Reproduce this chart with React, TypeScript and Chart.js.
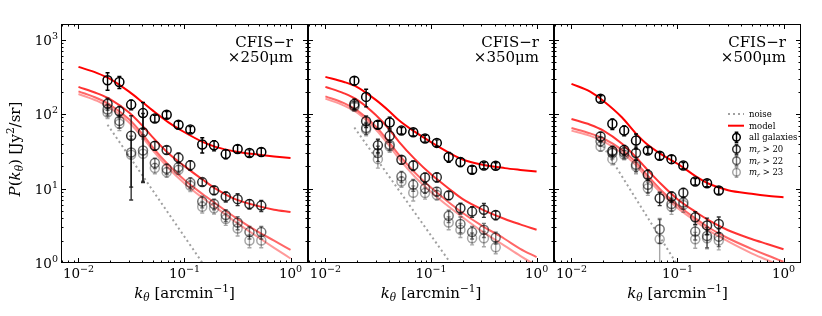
import React, { useEffect, useRef } from "react";
import { Chart, registerables } from "chart.js";
Chart.register(...registerables);

const FONT = '"DejaVu Serif", serif';

// ---- k bins (arcmin^-1) ----
const K250 = [0.0188, 0.0243, 0.0314, 0.0406, 0.0525, 0.0679, 0.0878, 0.1135, 0.147, 0.19, 0.245, 0.317, 0.41, 0.53];
const K350 = [0.0188, 0.0243, 0.0314, 0.0406, 0.0525, 0.0679, 0.0878, 0.1135, 0.147, 0.19, 0.245, 0.317, 0.41];
const K500 = [0.0188, 0.0243, 0.0314, 0.0406, 0.0525, 0.0679, 0.0878, 0.1135, 0.147, 0.19, 0.245];

// ---- 250 micron ----
const P250_ALL = [284, 270, 134, 103, 87, 98, 72, 62, 39, 38, 29, 34, 30, 31];
const E250_ALL = [75, 50, 20, 40, 9, 10, 8, 6, 9, 6, 4, 4, 3, 4];
const P250_M20 = [138, 109, 51, 57, 37.6, 33, 26, 20.6, 12.2, 9.5, 7.8, 7.2, 6.2, 5.9];
const E250_M20 = [25, 18, 44, 45, 5, 4, 4, 3, 1.3, 1.2, 1.2, 1.3, 0.9, 1.0];
const P250_M22 = [115, 81, 30.5, 32.5, 22, 18.4, 19.4, 12, 6.7, 6.2, 4.4, 3.5, 2.6, 2.6];
const E250_M22 = [20, 16, 20, 20, 3.5, 3, 3, 2, 1.2, 1.0, 0.8, 0.7, 0.5, 0.5];
const P250_M23 = [105, 74, 28.4, 29.3, 18.8, 16.6, 17.9, 10.9, 5.7, 5.45, 3.9, 2.9, 2.0, 2.0];
const E250_M23 = [18, 14, 18, 17, 3, 2.5, 2.5, 1.8, 1.0, 0.9, 0.7, 0.6, 0.4, 0.4];

// ---- 350 micron ----
const P350_ALL = [281, 170, 72, 77, 60, 57, 47, 41, 26.5, 22.7, 17.9, 20.4, 20.2];
const E350_ALL = [35, 45, 8, 14, 6, 6, 5, 4, 4, 3, 2, 2, 2];
const P350_M20 = [137, 80, 38, 51, 24.3, 20.4, 14.1, 14.2, 8.1, 5.45, 4.9, 5.2, 4.4];
const E350_M20 = [22, 14, 8, 9, 3, 3, 2, 2, 1, 0.9, 0.8, 1.1, 0.6];
const P350_M22 = [130, 65, 30, 38.7, 14.5, 11.2, 10.1, 9.1, 4.3, 3.35, 2.6, 2.8, 2.2];
const E350_M22 = [16, 12, 7, 6, 2.5, 2, 1.5, 1.2, 0.8, 0.8, 0.5, 0.6, 0.4];
const P350_M23 = [125, 62, 24.8, 36.7, 12.4, 8.8, 8.7, 8.2, 3.5, 2.8, 2.15, 2.15, 1.63];
const E350_M23 = [15, 11, 6, 6, 2, 2, 1.5, 1.2, 0.7, 0.6, 0.4, 0.5, 0.3];

// ---- 500 micron ----
const P500_ALL = [161, 74, 60, 44, 32.5, 27.5, 24.8, 20.4, 12.4, 11.8, 9.4];
const E500_ALL = [15, 12, 9, 10, 3, 3, 3, 2, 1.2, 1.2, 1];
const P500_M20 = [50, 32, 33, 30, 15.3, 7.4, 7.8, 8.8, 4.1, 3.2, 3.35];
const E500_M20 = [7, 5, 5, 6, 2.5, 1.5, 1.2, 1.2, 0.8, 0.8, 0.8];
const P500_M22 = [43, 30, 30.5, 20.8, 11.2, 2.84, 6.2, 6.5, 2.64, 2.3, 2.26];
const E500_M22 = [6, 5, 5, 4, 2.5, 1.0, 1.2, 1.2, 0.6, 0.7, 0.6];
const P500_M23 = [36.7, 24.8, 28.4, 19.8, 10.1, 2.08, 5.7, 6.0, 2.08, 2.15, 2.0];
const E500_M23 = [5, 4, 4, 4, 2, 1.9, 1.2, 1.2, 0.5, 0.6, 0.5];

// ---- model curves, sampled at MODEL_K ----
const MODEL_K = [0.01, 0.015, 0.02, 0.03, 0.04, 0.05, 0.07, 0.1, 0.15, 0.2, 0.3, 0.5, 0.7, 1.0];
const M250_ALL = [430, 355, 295, 200, 145, 112, 78, 57, 42, 36, 31.5, 28.5, 27, 25.7];
const M250_M20 = [232, 190, 158, 105, 70, 49, 30, 20, 13, 9.8, 7.2, 5.8, 5.2, 4.85];
const M250_M22 = [202, 163, 132, 85, 54, 36, 21, 13, 8.3, 6.2, 4.1, 2.6, 2.0, 1.5];
const M250_M23 = [186, 150, 120, 77, 49, 33, 19, 11.7, 7.4, 5.5, 3.6, 2.2, 1.6, 1.15];

const M350_ALL = [316, 270, 230, 155, 110, 82, 58, 42, 30, 24.5, 21, 18.8, 17.8, 16.9];
const M350_M20 = [232, 190, 155, 97, 63, 42, 25, 15.5, 9.8, 7.2, 5.3, 3.9, 3.3, 2.8];
const M350_M22 = [173, 140, 112, 68, 42, 28, 16.5, 10.3, 6.4, 4.7, 3.2, 2.1, 1.55, 1.2];
const M350_M23 = [161, 130, 104, 62, 38, 25, 14.5, 9.0, 5.6, 4.1, 2.7, 1.7, 1.25, 0.92];

const M500_ALL = [254, 200, 150, 90, 56, 41, 29, 21.5, 14.5, 11.5, 9.5, 8.5, 8.0, 7.66];
const M500_M20 = [86, 72, 60, 40, 27, 19, 11.5, 7.2, 4.8, 3.7, 2.75, 2.1, 1.8, 1.53];
const M500_M22 = [65, 55, 47, 33, 23, 16, 9.5, 6.0, 3.9, 2.95, 2.15, 1.55, 1.27, 1.04];
const M500_M23 = [60, 51, 43, 30, 21, 14.5, 8.7, 5.5, 3.6, 2.7, 1.95, 1.35, 1.1, 0.88];

// ---- noise lines ----
const NOISE_K250 = [0.0188, 0.148];
const NOISE_P250 = [72, 1];
const NOISE_K350 = [0.0188, 0.153];
const NOISE_P350 = [66, 1];
const NOISE_K500 = [0.0188, 0.097];
const NOISE_P500 = [42, 1];

// ---- ticks ----
const X_TICKS = [0.01, 0.1, 1];
const X_TICK_EXP = ["−2", "−1", "0"];
const Y_TICKS = [1, 10, 100, 1000];
const Y_TICK_EXP = ["0", "1", "2", "3"];
const X_MIN = 0.00684;
const X_MAX = 1.462;
const Y_MIN = 1;
const Y_MAX = 1620;

const SERIES_COLORS = ["rgba(0,0,0,1)", "rgba(0,0,0,0.8)", "rgba(0,0,0,0.55)", "rgba(0,0,0,0.35)"];
const MODEL_COLORS = ["rgba(255,0,0,1)", "rgba(255,0,0,0.8)", "rgba(255,0,0,0.6)", "rgba(255,0,0,0.4)"];
const NOISE_COLOR = "#a0a0a0";

const PANELS = [
  {
    label: "×250μm", left: 61, right: 308, yAxis: true, legend: false,
    k: K250, series: [P250_ALL, P250_M20, P250_M22, P250_M23], errs: [E250_ALL, E250_M20, E250_M22, E250_M23],
    models: [M250_ALL, M250_M20, M250_M22, M250_M23], noiseK: NOISE_K250, noiseP: NOISE_P250,
  },
  {
    label: "×350μm", left: 308, right: 554, yAxis: false, legend: false,
    k: K350, series: [P350_ALL, P350_M20, P350_M22, P350_M23], errs: [E350_ALL, E350_M20, E350_M22, E350_M23],
    models: [M350_ALL, M350_M20, M350_M22, M350_M23], noiseK: NOISE_K350, noiseP: NOISE_P350,
  },
  {
    label: "×500μm", left: 554, right: 801, yAxis: false, legend: true,
    k: K500, series: [P500_ALL, P500_M20, P500_M22, P500_M23], errs: [E500_ALL, E500_M20, E500_M22, E500_M23],
    models: [M500_ALL, M500_M20, M500_M22, M500_M23], noiseK: NOISE_K500, noiseP: NOISE_P500,
  },
];

const W = 822;
const H = 316;
const TOP = 24;
const BOTTOM = 263;

type Seg = { t: string; it?: boolean; s: number; dy?: number };
function segFont(s: Seg) {
  return `${s.it ? "italic " : ""}${s.s}px ${FONT}`;
}
function measureSegs(ctx: CanvasRenderingContext2D, segs: Seg[]) {
  let w = 0;
  for (const s of segs) {
    ctx.font = segFont(s);
    w += ctx.measureText(s.t).width;
  }
  return w;
}
function drawSegs(ctx: CanvasRenderingContext2D, segs: Seg[], x: number, y: number) {
  let cx = x;
  ctx.textAlign = "left";
  ctx.textBaseline = "alphabetic";
  for (const s of segs) {
    ctx.font = segFont(s);
    ctx.fillText(s.t, cx, y + (s.dy || 0));
    cx += ctx.measureText(s.t).width;
  }
}
function powSegs(exp: string): Seg[] {
  return [
    { t: "10", s: 13.5 },
    { t: exp, s: 9.5, dy: -6 },
  ];
}

function drawErrBar(ctx: CanvasRenderingContext2D, x: number, yTop: number, yBot: number, color: string, cap: number) {
  ctx.strokeStyle = color;
  ctx.lineWidth = 1.4;
  ctx.beginPath();
  ctx.moveTo(x, yTop);
  ctx.lineTo(x, yBot);
  ctx.moveTo(x - cap, yTop);
  ctx.lineTo(x + cap, yTop);
  ctx.moveTo(x - cap, yBot);
  ctx.lineTo(x + cap, yBot);
  ctx.stroke();
}

function makeDecor(p: any) {
  return {
    id: "decor",
    beforeDatasetDraw(chart: any, args: any) {
      const ds = chart.data.datasets[args.index];
      if (!ds.yErr) return;
      const { ctx, chartArea } = chart;
      const xs = chart.scales.x;
      const ys = chart.scales.y;
      ctx.save();
      ctx.beginPath();
      ctx.rect(chartArea.left, chartArea.top, chartArea.right - chartArea.left, chartArea.bottom - chartArea.top);
      ctx.clip();
      ds.data.forEach((pt: any, i: number) => {
        const e = ds.yErr[i];
        const px = xs.getPixelForValue(pt.x);
        const yT = ys.getPixelForValue(pt.y + e);
        const lo = pt.y - e;
        const yB = lo > 0 ? ys.getPixelForValue(lo) : chartArea.bottom + 20;
        drawErrBar(ctx, px, yT, yB, ds.errColor, 2);
      });
      ctx.restore();
    },
    afterDraw(chart: any) {
      const { ctx, chartArea } = chart;
      const xs = chart.scales.x;
      const ys = chart.scales.y;
      const L = chartArea.left, R = chartArea.right, T = chartArea.top, B = chartArea.bottom;
      ctx.save();
      ctx.strokeStyle = "#000";
      ctx.lineWidth = 1;
      ctx.strokeRect(L + 0.5, T + 0.5, R - L - 1, B - T - 1);
      // ticks (inward, all sides)
      ctx.beginPath();
      for (let d = -3; d <= 0; d++) {
        for (let m = 1; m <= 9; m++) {
          const v = m * Math.pow(10, d);
          if (v <= X_MIN || v >= X_MAX) continue;
          const px = Math.round(xs.getPixelForValue(v)) + 0.5;
          const len = m === 1 ? 5 : 2.5;
          ctx.moveTo(px, B);
          ctx.lineTo(px, B - len);
          ctx.moveTo(px, T);
          ctx.lineTo(px, T + len);
        }
      }
      for (let d = 0; d <= 3; d++) {
        for (let m = 1; m <= 9; m++) {
          const v = m * Math.pow(10, d);
          if (v <= Y_MIN || v >= Y_MAX) continue;
          const py = Math.round(ys.getPixelForValue(v)) + 0.5;
          const len = m === 1 ? 5 : 2.5;
          ctx.moveTo(L, py);
          ctx.lineTo(L + len, py);
          ctx.moveTo(R, py);
          ctx.lineTo(R - len, py);
        }
      }
      ctx.stroke();

      ctx.fillStyle = "#000";
      // tick labels
      X_TICKS.forEach((v, i) => {
        const segs = powSegs(X_TICK_EXP[i]);
        const w = measureSegs(ctx, segs);
        drawSegs(ctx, segs, xs.getPixelForValue(v) - w / 2, 278);
      });
      if (p.yAxis) {
        Y_TICKS.forEach((v, i) => {
          const segs = powSegs(Y_TICK_EXP[i]);
          const w = measureSegs(ctx, segs);
          drawSegs(ctx, segs, L - 3 - w, ys.getPixelForValue(v) + 5);
        });
      }

      // panel label
      ctx.font = `15px ${FONT}`;
      ctx.textAlign = "right";
      ctx.textBaseline = "alphabetic";
      ctx.fillText("CFIS−r", R - 15, 47);
      ctx.fillText(p.label, R - 15, 62);

      // x axis title
      const xl: Seg[] = [
        { t: "k", it: true, s: 15 },
        { t: "θ", it: true, s: 10.5, dy: 3 },
        { t: " [arcmin", s: 15 },
        { t: "−1", s: 10.5, dy: -6 },
        { t: "]", s: 15 },
      ];
      const xw = measureSegs(ctx, xl);
      drawSegs(ctx, xl, (L + R) / 2 - xw / 2, 298);

      if (p.yAxis) {
        const yl: Seg[] = [
          { t: "P", it: true, s: 15 },
          { t: "(", s: 15 },
          { t: "k", it: true, s: 15 },
          { t: "θ", it: true, s: 10.5, dy: 3 },
          { t: ") [Jy", s: 15 },
          { t: "2", s: 10.5, dy: -6 },
          { t: "/sr]", s: 15 },
        ];
        const yw = measureSegs(ctx, yl);
        ctx.save();
        ctx.translate(20, 149);
        ctx.rotate(-Math.PI / 2);
        drawSegs(ctx, yl, -yw / 2, 0);
        ctx.restore();
      }

      if (p.legend) {
        const x0 = R - 73, x1 = R - 57, tx = R - 52, mx = R - 64.5;
        const rows = [114, 125.7, 137.3, 149.3, 160.7, 172.3];
        ctx.save();
        ctx.strokeStyle = NOISE_COLOR;
        ctx.lineWidth = 2;
        ctx.setLineDash([2, 3]);
        ctx.beginPath();
        ctx.moveTo(x0, rows[0]);
        ctx.lineTo(x1, rows[0]);
        ctx.stroke();
        ctx.restore();
        ctx.strokeStyle = MODEL_COLORS[0];
        ctx.lineWidth = 2;
        ctx.beginPath();
        ctx.moveTo(x0, rows[1]);
        ctx.lineTo(x1, rows[1]);
        ctx.stroke();
        for (let i = 0; i < 4; i++) {
          const y = rows[2 + i];
          drawErrBar(ctx, mx, y - 5, y + 5, SERIES_COLORS[i], 1.8);
          ctx.strokeStyle = SERIES_COLORS[i];
          ctx.lineWidth = 1.5;
          ctx.beginPath();
          ctx.arc(mx, y, 3.8, 0, Math.PI * 2);
          ctx.stroke();
        }
        ctx.fillStyle = "#000";
        const lab = (segs: Seg[], y: number) => drawSegs(ctx, segs, tx, y + 3);
        lab([{ t: "noise", s: 8.5 }], rows[0]);
        lab([{ t: "model", s: 8.5 }], rows[1]);
        lab([{ t: "all galaxies", s: 8.5 }], rows[2]);
        const mags = ["20", "22", "23"];
        mags.forEach((m, i) => {
          lab([{ t: "m", it: true, s: 8.5 }, { t: "r", it: true, s: 6, dy: 1.5 }, { t: " > " + m, s: 8.5 }], rows[3 + i]);
        });
      }
      ctx.restore();
    },
  };
}

function buildConfig(p: any): any {
  const datasets: any[] = [];
  p.series.forEach((s: number[], i: number) => {
    datasets.push({
      data: p.k.map((k: number, j: number) => ({ x: k, y: s[j] })),
      showLine: false,
      pointStyle: "circle",
      pointRadius: 4.5,
      borderColor: SERIES_COLORS[i],
      pointBorderColor: SERIES_COLORS[i],
      backgroundColor: "rgba(0,0,0,0)",
      pointBackgroundColor: "rgba(0,0,0,0)",
      pointBorderWidth: 1.5,
      order: 1,
      yErr: p.errs[i],
      errColor: SERIES_COLORS[i],
    });
  });
  p.models.forEach((m: number[], i: number) => {
    datasets.push({
      data: MODEL_K.map((k, j) => ({ x: k, y: m[j] })),
      showLine: true,
      borderColor: MODEL_COLORS[i],
      borderWidth: 2,
      pointRadius: 0,
      cubicInterpolationMode: "monotone",
      order: 2,
      clip: 0,
    });
  });
  datasets.push({
    data: p.noiseK.map((k: number, j: number) => ({ x: k, y: p.noiseP[j] })),
    showLine: true,
    borderColor: NOISE_COLOR,
    borderWidth: 2,
    borderDash: [2, 3],
    pointRadius: 0,
    order: 3,
    clip: 0,
  });

  return {
    type: "scatter",
    data: { datasets },
    options: {
      responsive: false,
      animation: false,
      events: [],
      layout: { padding: { left: p.yAxis ? 0 : p.left, right: W - p.right, top: TOP, bottom: 0 } },
      plugins: { legend: { display: false }, tooltip: { enabled: false } },
      scales: {
        x: {
          type: "logarithmic",
          min: X_MIN,
          max: X_MAX,
          grid: { display: false, drawTicks: false },
          border: { display: false },
          afterBuildTicks: (s: any) => {
            s.ticks = X_TICKS.map((v) => ({ value: v }));
          },
          afterFit: (s: any) => {
            s.height = H - BOTTOM;
          },
          ticks: { display: false },
        },
        y: {
          type: "logarithmic",
          display: p.yAxis,
          min: Y_MIN,
          max: Y_MAX,
          grid: { display: false, drawTicks: false },
          border: { display: false },
          afterBuildTicks: (s: any) => {
            s.ticks = Y_TICKS.map((v) => ({ value: v }));
          },
          afterFit: (s: any) => {
            s.width = p.yAxis ? p.left : 0;
          },
          ticks: { display: false },
        },
      },
    },
    plugins: [makeDecor(p)],
  };
}

function Panel({ p }: { p: any }) {
  const ref = useRef<HTMLCanvasElement | null>(null);
  useEffect(() => {
    if (!ref.current) return;
    const chart = new Chart(ref.current, buildConfig(p));
    return () => chart.destroy();
  }, [p]);
  return (
    <canvas
      ref={ref}
      width={W}
      height={H}
      style={{ position: "absolute", left: 0, top: 0, width: W, height: H, display: "block" }}
    />
  );
}

export default function App() {
  return (
    <div style={{ position: "absolute", left: 0, top: 0, width: W, height: H, background: "#fff" }}>
      {PANELS.map((p, i) => (
        <Panel key={i} p={p} />
      ))}
    </div>
  );
}
